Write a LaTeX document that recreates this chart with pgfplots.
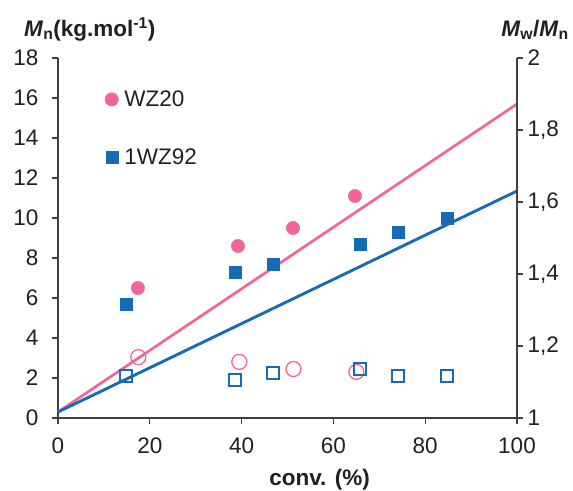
\documentclass[border=0pt]{standalone}
\usepackage{fontspec}
\setmainfont{Liberation Sans}
\usepackage{pgfplots}
\pgfplotsset{compat=1.18}
\definecolor{wzpink}{RGB}{240,102,152}
\definecolor{wzblue}{RGB}{22,108,180}
\definecolor{axgray}{RGB}{64,64,64}
\definecolor{txt}{RGB}{35,31,32}
\begin{document}
\begin{tikzpicture}
\pgfplotsset{
 common/.style={
  scale only axis, width=459pt, height=360pt,
  xmin=0,xmax=100, clip=false,
  tick align=outside,
  major tick length=6pt,
  axis line style={-, axgray, line width=1.3pt},
  tick style={axgray, line width=1.3pt},
  tick label style={font=\fontsize{22.5}{22.5}\selectfont, text=txt},
  /pgf/number format/assume math mode=true,
 }
}
\begin{axis}[common,
  axis x line*=bottom, axis y line*=left,
  ymin=0,ymax=18, ytick={0,2,...,18}, xtick={0,20,...,100},
  yticklabel style={xshift=-10pt},
  xticklabel style={yshift=-10pt},
  legend style={at={(rel axis cs:0.102,0.915)}, anchor=north west, draw=none, fill=none,
    font=\fontsize{22.5}{22.5}\selectfont, text=txt, row sep=36.5pt, column sep=4pt, inner sep=0pt},
  legend cell align=left,
]
\addplot[wzpink, line width=2.7pt, forget plot] coordinates {(0,0.3) (100,15.7)};
\addplot[wzblue, line width=2.9pt, forget plot] coordinates {(0,0.3) (100,11.35)};
\addplot[only marks, mark=*, mark size=6.7pt, wzpink] coordinates {
 (17.4,6.5) (39.2,8.6) (51.2,9.5) (64.7,11.1)};
\addlegendentry{WZ20}
\addplot[only marks, mark=square*, mark size=6pt, wzblue] coordinates {
 (14.8,5.7) (38.6,7.3) (46.8,7.7) (65.8,8.7) (74.1,9.3) (84.7,10.0)};
\addlegendentry{1WZ92}
\node[anchor=base west, font=\fontsize{22.5}{22.5}\selectfont\bfseries, text=txt, inner sep=0pt] at (rel axis cs:-0.074,1.061) {\textit{M}\textsubscript{n}(kg.mol\textsuperscript{-1})};
\node[anchor=base west, font=\fontsize{22.5}{22.5}\selectfont\bfseries, text=txt, inner sep=0pt] at (rel axis cs:0.46,-0.188) {conv. (\%)};
\end{axis}
\begin{axis}[common, axis x line=none, axis y line*=right, ymin=1,ymax=2,
  ytick={1,1.2,1.4,1.6,1.8,2}, yticklabels={1,{1,2},{1,4},{1,6},{1,8},2},
  yticklabel style={xshift=1pt}]
\addplot[only marks, mark=o, mark size=7.5pt, wzpink, line width=1.3pt] coordinates {
 (17.5,1.169) (39.5,1.156) (51.3,1.136) (65,1.128)};
\addplot[only marks, mark=square, mark size=6pt, wzblue, line width=1.5pt] coordinates {
 (14.8,1.117) (38.6,1.106) (46.8,1.125) (65.8,1.136) (74.1,1.117) (84.7,1.117)};
\node[anchor=base east, font=\fontsize{22.5}{22.5}\selectfont\bfseries, text=txt, inner sep=0pt] at (rel axis cs:1.113,1.061) {\textit{M}\textsubscript{w}/\textit{M}\textsubscript{n}};
\end{axis}
\path (-58pt,-71pt) rectangle (515pt,418pt);
\end{tikzpicture}
\end{document}
